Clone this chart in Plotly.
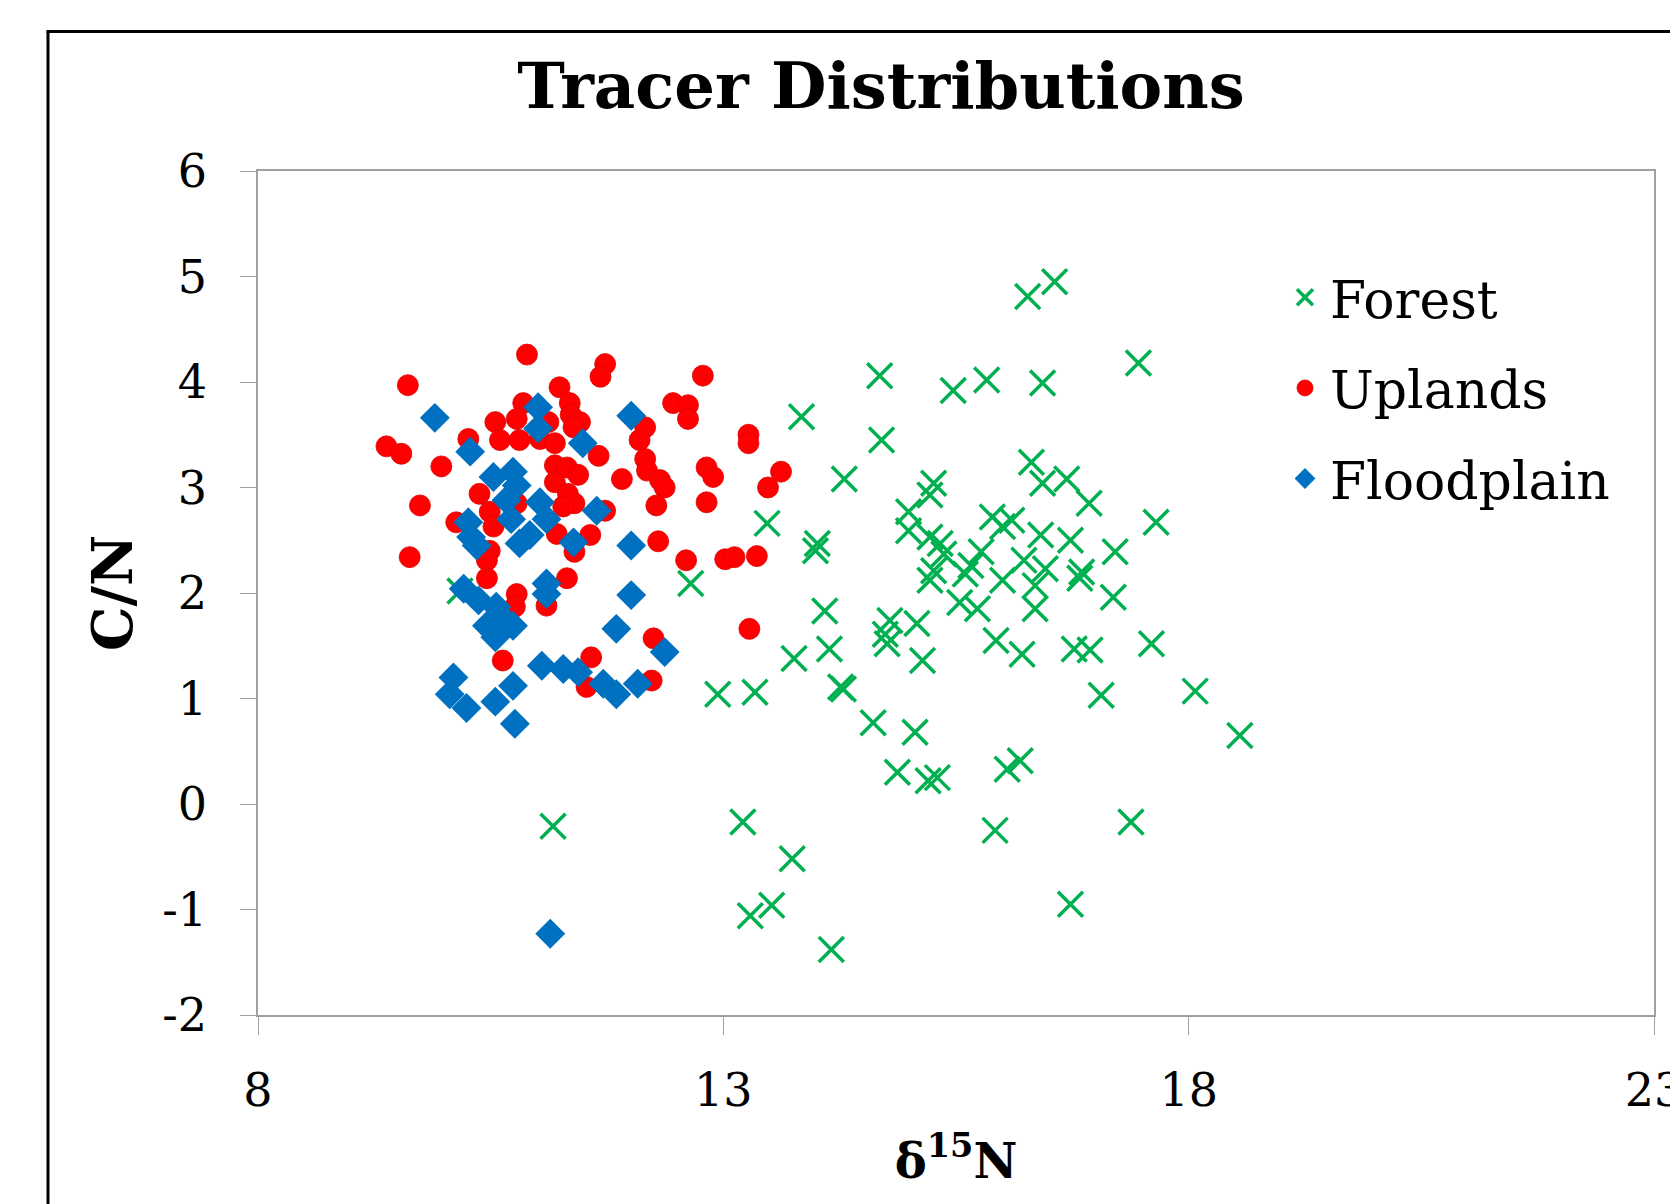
import plotly.graph_objects as go

# ---- data ----
forest_x = [16.27, 16.56, 17.46, 14.68, 15.47, 15.83, 16.43, 13.84, 14.70, 14.30,
            16.31, 16.43, 16.69, 16.93, 17.65, 15.26, 15.22, 14.99, 14.99, 15.22,
            15.33, 15.37, 13.47, 14.01, 13.99, 15.89, 16.10, 16.00, 16.41, 16.73,
            17.21, 15.77, 15.66, 15.60, 16.23, 16.46, 16.85, 16.83, 15.22, 15.26,
            16.00, 16.35, 17.19, 15.54, 15.73, 16.35, 14.09, 14.79, 15.08, 14.74,
            14.76, 15.93, 16.21, 16.77, 16.94, 17.60, 13.76, 14.14, 15.14, 14.26,
            14.29, 12.94, 13.34, 17.06, 18.07, 12.65, 10.17, 18.55, 17.38, 16.73,
            14.61, 15.06, 14.87, 15.20, 15.30, 16.05, 16.19, 13.21, 13.74, 13.29,
            13.52, 14.16, 15.92, 11.17]
forest_y = [4.81, 4.95, 4.18, 4.06, 3.92, 4.02, 3.99, 3.67, 3.45, 3.08,
            3.24, 3.04, 3.08, 2.85, 2.67, 3.04, 2.93, 2.77, 2.59, 2.53,
            2.47, 2.37, 2.66, 2.47, 2.40, 2.72, 2.69, 2.63, 2.55, 2.50,
            2.39, 2.39, 2.26, 2.18, 2.31, 2.23, 2.20, 2.14, 2.12, 2.21,
            2.12, 2.07, 1.96, 1.91, 1.85, 1.85, 1.83, 1.74, 1.71, 1.61,
            1.52, 1.55, 1.42, 1.47, 1.46, 1.52, 1.38, 1.47, 1.36, 1.11,
            1.09, 1.04, 1.06, 1.03, 1.07, 2.09, 2.02, 0.65, -0.17, -0.95,
            0.77, 0.68, 0.30, 0.22, 0.25, 0.33, 0.41, -0.17, -0.52, -1.06,
            -0.96, -1.38, -0.25, -0.21]

uplands_x = [10.89, 11.73, 11.68, 12.78, 9.61, 11.24, 10.85, 11.35, 12.46, 12.62,
             11.36, 11.46, 11.39, 10.55, 10.78, 11.12, 12.62, 9.38, 9.54, 10.26,
             10.60, 10.81, 11.03, 11.19, 12.16, 12.10, 13.27, 13.27, 9.97, 11.66,
             11.19, 11.32, 11.44, 11.91, 12.16, 12.18, 12.32, 12.37, 12.82, 12.89,
             13.62, 13.48, 11.19, 10.38, 11.33, 11.40, 11.28, 9.74, 10.78, 11.73,
             12.28, 12.82, 10.13, 10.49, 10.53, 11.21, 11.57, 12.30, 9.63, 10.49,
             10.46, 11.40, 12.60, 13.02, 13.12, 13.36, 10.46, 11.32, 10.78, 10.76,
             11.10, 13.28, 12.25, 10.63, 11.58, 11.53, 12.23]
uplands_y = [4.26, 4.17, 4.05, 4.06, 3.97, 3.95, 3.80, 3.80, 3.80, 3.78,
             3.69, 3.62, 3.57, 3.62, 3.65, 3.62, 3.65, 3.39, 3.32, 3.46,
             3.45, 3.45, 3.46, 3.42, 3.57, 3.45, 3.50, 3.42, 3.20, 3.30,
             3.21, 3.19, 3.12, 3.08, 3.27, 3.16, 3.07, 3.00, 3.19, 3.10,
             3.15, 3.00, 3.05, 2.94, 2.94, 2.85, 2.82, 2.83, 2.85, 2.78,
             2.83, 2.86, 2.67, 2.77, 2.63, 2.56, 2.55, 2.49, 2.34, 2.40,
             2.31, 2.39, 2.31, 2.32, 2.34, 2.35, 2.14, 2.14, 1.99, 1.87,
             1.88, 1.66, 1.57, 1.36, 1.39, 1.11, 1.17]

floodplain_x = [9.90, 11.01, 11.01, 12.01, 10.28, 11.49, 10.53, 10.74, 10.78, 10.67,
                11.03, 10.72, 11.10, 11.64, 10.26, 10.29, 10.35, 10.81, 10.92, 11.39,
                12.01, 11.10, 11.10, 10.21, 10.37, 10.56, 10.62, 10.74, 10.46, 10.55,
                12.01, 11.85, 12.37, 11.05, 11.28, 11.44, 11.71, 11.85, 12.08, 10.10,
                10.06, 10.55, 10.74, 10.24, 10.76, 11.14]
floodplain_y = [3.66, 3.76, 3.56, 3.68, 3.34, 3.42, 3.10, 3.15, 3.02, 2.88,
                2.86, 2.70, 2.70, 2.78, 2.67, 2.53, 2.45, 2.47, 2.55, 2.48,
                2.45, 2.09, 1.99, 2.04, 1.93, 1.87, 1.77, 1.69, 1.69, 1.58,
                1.98, 1.66, 1.44, 1.31, 1.28, 1.25, 1.14, 1.04, 1.14, 1.20,
                1.04, 0.97, 1.12, 0.91, 0.76, -1.23]

x_ticks = [8, 13, 18, 23]
y_ticks = [-2, -1, 0, 1, 2, 3, 4, 5, 6]

# page offset: the HTML body has an 8px margin, so target pixel p -> p - OFF
OFF = 8
W, H = 1678, 1204
ML, MT = 258 - OFF, 171 - OFF
PW, PH = 1396, 844
MR, MB = W - ML - PW, H - MT - PH


def px_x(p):
    return (p - OFF - ML) / PW


def px_y(p):
    return (H - MB - (p - OFF)) / PH


SERIF = "DejaVu Serif"
AXIS_GRAY = "#A0A0A0"

fig = go.Figure()
fig.add_trace(go.Scatter(
    x=forest_x, y=forest_y, mode="markers", name="Forest", legendgroup="f",
    marker=dict(symbol="x-thin", size=25, color="#00B050",
                line=dict(width=3.5, color="#00B050")),
))
fig.add_trace(go.Scatter(
    x=uplands_x, y=uplands_y, mode="markers", name="Uplands", legendgroup="u",
    marker=dict(symbol="circle", size=21, color="#FF0000",
                line=dict(width=0.8, color="#E00000")),
))
fig.add_trace(go.Scatter(
    x=floodplain_x, y=floodplain_y, mode="markers", name="Floodplain", legendgroup="p",
    marker=dict(symbol="diamond", size=23, color="#0070C0",
                line=dict(width=0)),
))

fig.update_layout(
    width=W, height=H,
    margin=dict(l=ML, r=MR, t=MT, b=MB, autoexpand=False),
    paper_bgcolor="white", plot_bgcolor="white",
    font=dict(family=SERIF, color="black"),
    title=dict(text="<b>Tracer Distributions</b>", x=(881 - OFF) / W, xref="container",
               xanchor="center", y=1 - (86 - OFF) / H, yanchor="middle",
               font=dict(family=SERIF, size=64, color="black")),
    xaxis=dict(range=[8, 23], tickvals=x_ticks, ticktext=[str(v) for v in x_ticks],
               automargin=False,
               showgrid=False, zeroline=False, showline=True, mirror=True,
               linecolor=AXIS_GRAY, linewidth=1.5, ticks="outside", ticklen=18,
               tickcolor=AXIS_GRAY, tickwidth=1.2, ticklabelstandoff=16,
               ticklabeloverflow="allow",
               tickfont=dict(family=SERIF, size=46, color="black"),
               title=dict(text="<b>δ<sup>15</sup>N</b>", standoff=28,
                          font=dict(family=SERIF, size=48, color="black"))),
    yaxis=dict(range=[-2, 6], tickvals=y_ticks, ticktext=[str(v) for v in y_ticks],
               automargin=False,
               showgrid=False, zeroline=False, showline=True, mirror=True,
               linecolor=AXIS_GRAY, linewidth=1.5, ticks="outside", ticklen=16,
               tickcolor=AXIS_GRAY, tickwidth=1.2, ticklabelstandoff=24,
               ticklabeloverflow="allow",
               tickfont=dict(family=SERIF, size=46, color="black"),
               title=dict(text="<b>C/N</b>", standoff=12,
                          font=dict(family=SERIF, size=56, color="black"))),
    legend=dict(x=px_x(1280), y=px_y(257), xanchor="left", yanchor="top",
                traceorder="grouped", tracegroupgap=20,
                font=dict(family=SERIF, size=52, color="black"),
                bgcolor="rgba(0,0,0,0)", itemsizing="trace", itemwidth=40),
    showlegend=True,
)

# black outer frame (slide border), cropped at right and bottom
fig.add_shape(type="line", xref="paper", yref="paper",
              x0=px_x(48), x1=px_x(48), y0=px_y(1240), y1=px_y(31.5),
              line=dict(color="black", width=3))
fig.add_shape(type="line", xref="paper", yref="paper",
              x0=px_x(46.5), x1=px_x(1720), y0=px_y(31.5), y1=px_y(31.5),
              line=dict(color="black", width=3))

fig.write_html("out.html")
